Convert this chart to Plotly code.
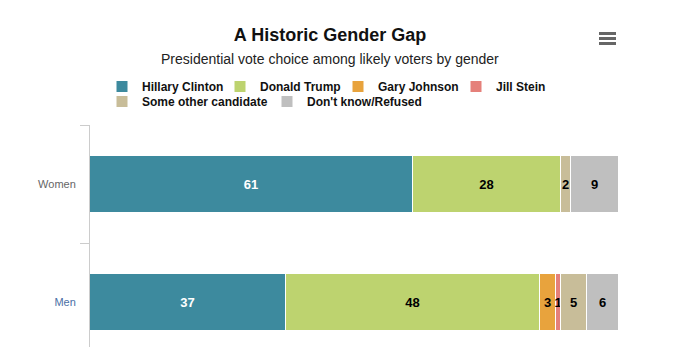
import plotly.graph_objects as go

# Survey results (percent of likely voters)
genders = ["Women", "Men"]
candidates = [
    "Hillary Clinton",
    "Donald Trump",
    "Gary Johnson",
    "Jill Stein",
    "Some other candidate",
    "Don't know/Refused",
]
women = [61, 28, 0, 0, 2, 9]
men = [37, 48, 3, 1, 5, 6]

colors = ["#3d8a9e", "#bdd36f", "#e8a33d", "#e5807a", "#c8bd99", "#bfbfbf"]
label_colors = ["#ffffff", "#000000", "#000000", "#000000", "#000000", "#000000"]
# first four entries on the top legend row, the rest on the second
legend_rows = ["legend", "legend", "legend", "legend", "legend2", "legend2"]

FONT = "Liberation Sans, Arial, sans-serif"
W, H = 681, 347
ML, MR, MT, MB = 90, 62, 125, 0
PW, PH = W - ML - MR, H - MT - MB


def px_x(x):
    return (x - ML) / PW


def px_y(y):
    return (H - MB - y) / PH


fig = go.Figure()
for i, name in enumerate(candidates):
    vals = [women[i], men[i]]
    fig.add_trace(
        go.Bar(
            name=name,
            legend=legend_rows[i],
            orientation="h",
            y=genders,
            x=vals,
            width=0.48,
            marker=dict(color=colors[i], line=dict(color="#ffffff", width=1)),
            text=[str(v) if v > 0 else "" for v in vals],
            textposition="inside",
            insidetextanchor="middle",
            textangle=0,
            textfont=dict(family=FONT, size=13, color=label_colors[i], weight="bold"),
            hoverinfo="skip",
            cliponaxis=False,
        )
    )

# Title, subtitle and the menu icon
fig.add_annotation(
    text="Presidential vote choice among likely voters by gender",
    xref="paper", yref="paper", x=px_x(330), y=px_y(59),
    xanchor="center", yanchor="middle", showarrow=False,
    font=dict(family=FONT, size=14, color="#222222"),
)
for yy in (33.5, 38.5, 43.5):
    fig.add_shape(
        type="line", xref="paper", yref="paper",
        x0=px_x(599), x1=px_x(616), y0=px_y(yy), y1=px_y(yy),
        line=dict(color="#666666", width=3),
    )

legend_style = dict(
    orientation="h",
    xref="container", yref="container",
    xanchor="left", yanchor="top",
    font=dict(family=FONT, size=12, color="#111111", weight="bold"),
    traceorder="normal",
    itemwidth=30,
    itemclick=False,
    itemdoubleclick=False,
    bgcolor="rgba(0,0,0,0)",
    entrywidthmode="pixels",
)

fig.update_layout(
    width=W,
    height=H,
    margin=dict(l=ML, r=MR, t=MT, b=MB, pad=0),
    paper_bgcolor="#ffffff",
    plot_bgcolor="#ffffff",
    barmode="stack",
    bargap=0,
    font=dict(family=FONT, color="#333333"),
    title=dict(
        text="A Historic Gender Gap",
        xref="container", yref="container",
        x=330 / W, y=1 - 35 / H, xanchor="center", yanchor="middle",
        font=dict(family=FONT, size=18, color="#111111", weight="bold"),
    ),
    legend=dict(legend_style, x=102 / W, y=1 - 72 / H, entrywidth=73),
    legend2=dict(legend_style, x=102 / W, y=1 - 87 / H, entrywidth=120),
    xaxis=dict(
        range=[0, 100], visible=False, fixedrange=True,
    ),
    yaxis=dict(
        type="category",
        categoryorder="array",
        categoryarray=["Men", "Women"],
        range=[-0.375, 1.5],
        tickmode="array",
        tickvals=["Men", "Women"],
        ticktext=['<span style="color:#4a6fa5">Men</span>', "Women"],
        tickson="boundaries",
        ticks="outside",
        ticklen=9,
        tickcolor="#cccccc",
        tickwidth=1,
        ticklabelstandoff=11,
        showline=True,
        linecolor="#cccccc",
        linewidth=1,
        showgrid=False,
        zeroline=False,
        tickfont=dict(family=FONT, size=11, color="#666666"),
        fixedrange=True,
    ),
    uniformtext=dict(minsize=13, mode="show"),
    showlegend=True,
)

fig.write_html("out.html", config={"displayModeBar": False})
